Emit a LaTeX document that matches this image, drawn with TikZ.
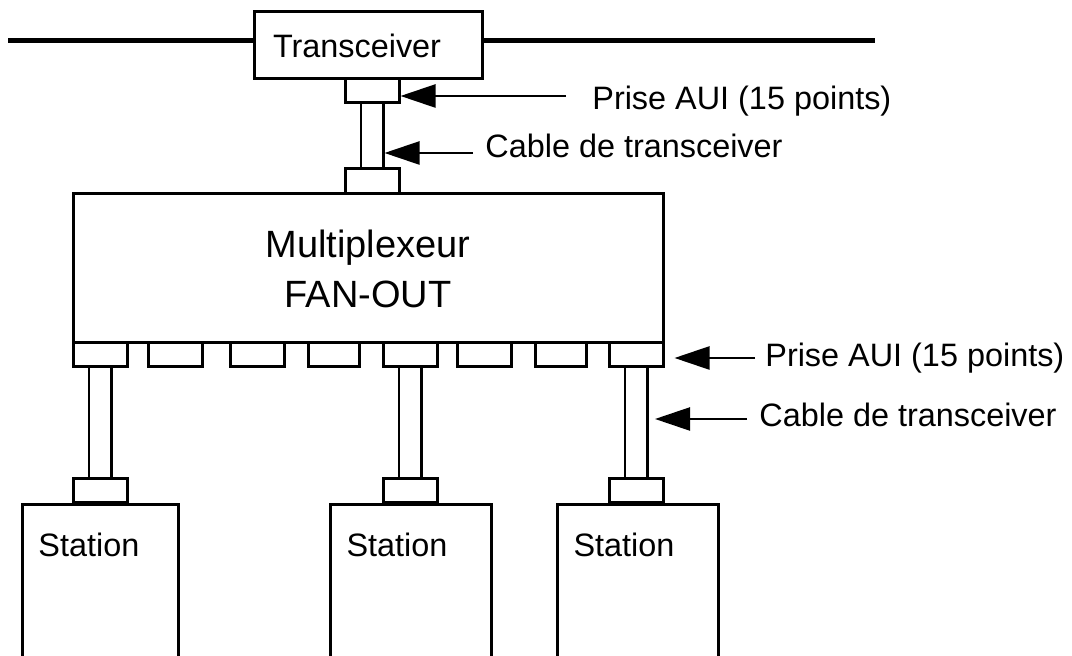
\documentclass[tikz,border=0pt]{standalone}
\usepackage{fontspec}
\setmainfont{Liberation Sans}
\usetikzlibrary{arrows.meta}
\tikzset{
  box/.style={draw,line width=1.5pt,inner sep=0pt},
  port/.style={draw,line width=1.5pt,inner sep=0pt,minimum height=12pt},
  station/.style={draw,line width=1.5pt,anchor=north west,align=left,inner xsep=8pt,inner ysep=0pt,text height=26pt,text depth=100pt},
  cable/.style={line width=1.25pt,double distance=10pt},
  bus/.style={line width=2.5pt},
  pointer/.style={line width=1.2pt,-{Triangle[length=17.5pt,width=11.5pt]}},
  lbl/.style={anchor=base west,inner sep=0pt}
}

\begin{document}
\begin{tikzpicture}[x=0.5pt,y=-0.5pt,font=\fontsize{16.2}{19}\selectfont]
\useasboundingbox (0,0) rectangle (1072,656);
\clip (0,0) rectangle (1072,656);

\node[box,minimum height=33.5pt,text width=95pt,inner xsep=9.5pt,align=left] (trans) at (368,45.5) {Transceiver};
\coordinate (busl) at (8,40.5);
\coordinate (busr) at (875,40.5);
\draw[bus] (busl) -- (busl -| trans.west);
\draw[bus] (busr -| trans.east) -- (busr);

\node[port,minimum width=27pt] (ptop) at (372,91) {};
\node[port,minimum width=27pt,minimum height=12.5pt] (pmux) at (372,181.5) {};
\node[box,minimum width=295pt,minimum height=74.5pt,align=center,font=\fontsize{19}{25}\selectfont] (mux) at (368,268.5) {Multiplexeur\\FAN-OUT};

\foreach \i/\a/\b in {1/73/127,2/148/202,3/230/284,4/308/359,5/383/437,6/457/511,7/535/586,8/609/663}
  \node[port,minimum width={(\b-\a)*0.5pt}] (p\i) at ({(\a+\b)/2},355) {};

\foreach \i/\x in {1/100,2/410,3/636}
  \node[port,minimum width=27pt] (sc\i) at (\x,491) {};

\node[station,text width=62pt] (st1) at (21,503) {Station};
\node[station,text width=64.5pt] (st2) at (329,503) {Station};
\node[station,text width=64.5pt] (st3) at (556,503) {Station};

\draw[cable] (ptop) -- (pmux);
\draw[cable] (p1) -- (sc1);
\draw[cable] (p5) -- (sc2);
\draw[cable] (p8) -- (sc3);

\node[lbl] (aui1) at (592,110) {Prise AUI (15 points)};
\node[lbl] (cab1) at (485,158) {Cable de transceiver};
\node[lbl] (aui2) at (765,367) {Prise AUI (15 points)};
\node[lbl] (cab2) at (759,427) {Cable de transceiver};

\coordinate (t1) at (566,96);
\coordinate (t2) at (473,153);
\coordinate (t3) at (755,358);
\coordinate (t4) at (747,419);
\draw[pointer] (t1) -- (t1 -| ptop.east);
\draw[pointer] (t2) -- ([xshift=6.25pt]t2 -| pmux.center);
\draw[pointer] (t3) -- ([xshift=5pt]t3 -| p8.east);
\draw[pointer] (t4) -- ([xshift=9.5pt]t4 -| p8.center);
\end{tikzpicture}
\end{document}
